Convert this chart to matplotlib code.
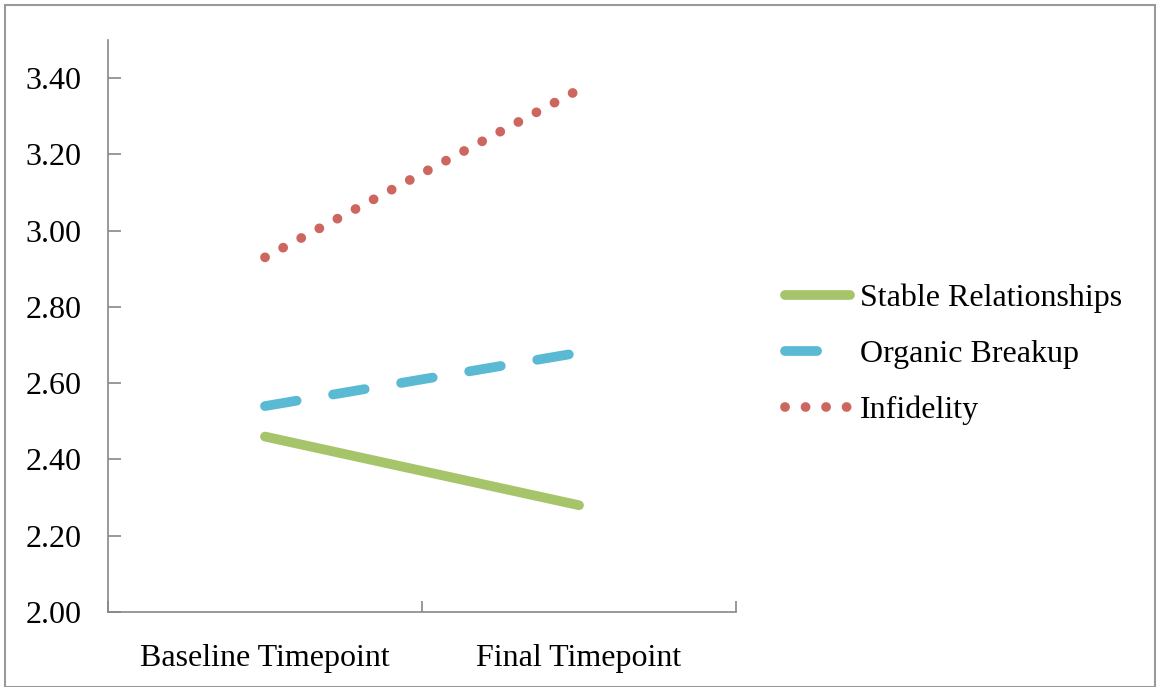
import matplotlib
matplotlib.use('Agg')
import matplotlib.pyplot as plt
from matplotlib.patches import Rectangle

categories = ['Baseline Timepoint', 'Final Timepoint']
series_names = ['Stable Relationships', 'Organic Breakup', 'Infidelity']
stable = [2.46, 2.28]
organic = [2.54, 2.68]
infidelity = [2.93, 3.37]
yticks = [2.00, 2.20, 2.40, 2.60, 2.80, 3.00, 3.20, 3.40]

plt.rcParams['font.family'] = ['Liberation Serif', 'DejaVu Serif']

fig = plt.figure(figsize=(11.57, 6.87), dpi=100)
ax = fig.add_axes([108/1157, 75/687, 628/1157, 572/687])

x = [0.5, 1.5]
lw = 7
l1, = ax.plot(x, stable, color='#A6C46A', lw=lw, solid_capstyle='round',
              label=series_names[0])
l2, = ax.plot(x, organic, color='#5AB9D3', lw=lw, dash_capstyle='round',
              dashes=(3.3, 3.8), label=series_names[1])
l3, = ax.plot(x, infidelity, color='#CD665F', lw=lw, dash_capstyle='round',
              dashes=(0.01, 2.1), label=series_names[2])

ax.set_xlim(0, 2)
ax.set_ylim(2.0, 3.5)
ax.set_yticks(yticks)
ax.set_yticklabels(['%.2f' % v for v in yticks])
ax.set_xticks([0, 1, 2])
ax.set_xticklabels([])
ax.set_xticks(x, minor=True)
ax.set_xticklabels(categories, minor=True)
ax.tick_params(axis='x', which='minor', length=0, pad=23, labelsize=23)
ax.tick_params(axis='x', which='major', direction='in', length=8,
               color='#888888', width=1.2)
ax.tick_params(axis='y', direction='in', length=9, color='#888888',
               width=1.2, pad=19, labelsize=23)
for side in ['top', 'right']:
    ax.spines[side].set_visible(False)
for side in ['left', 'bottom']:
    ax.spines[side].set_color('#888888')
    ax.spines[side].set_linewidth(1.2)

fig.legend(handles=[l1, l2, l3], loc='upper left',
           bbox_to_anchor=(785/1157, 1 - 284/687), frameon=False,
           fontsize=23, handlelength=2.03, handletextpad=0.31,
           labelspacing=0.83, borderpad=0, borderaxespad=0)

fig.patches.append(Rectangle((5/1157, 0), 1150/1157, 1 - 5/687,
                             transform=fig.transFigure, fill=False,
                             edgecolor='#999999', lw=1.5))

fig.savefig('out.png', dpi=100)
plt.close()
